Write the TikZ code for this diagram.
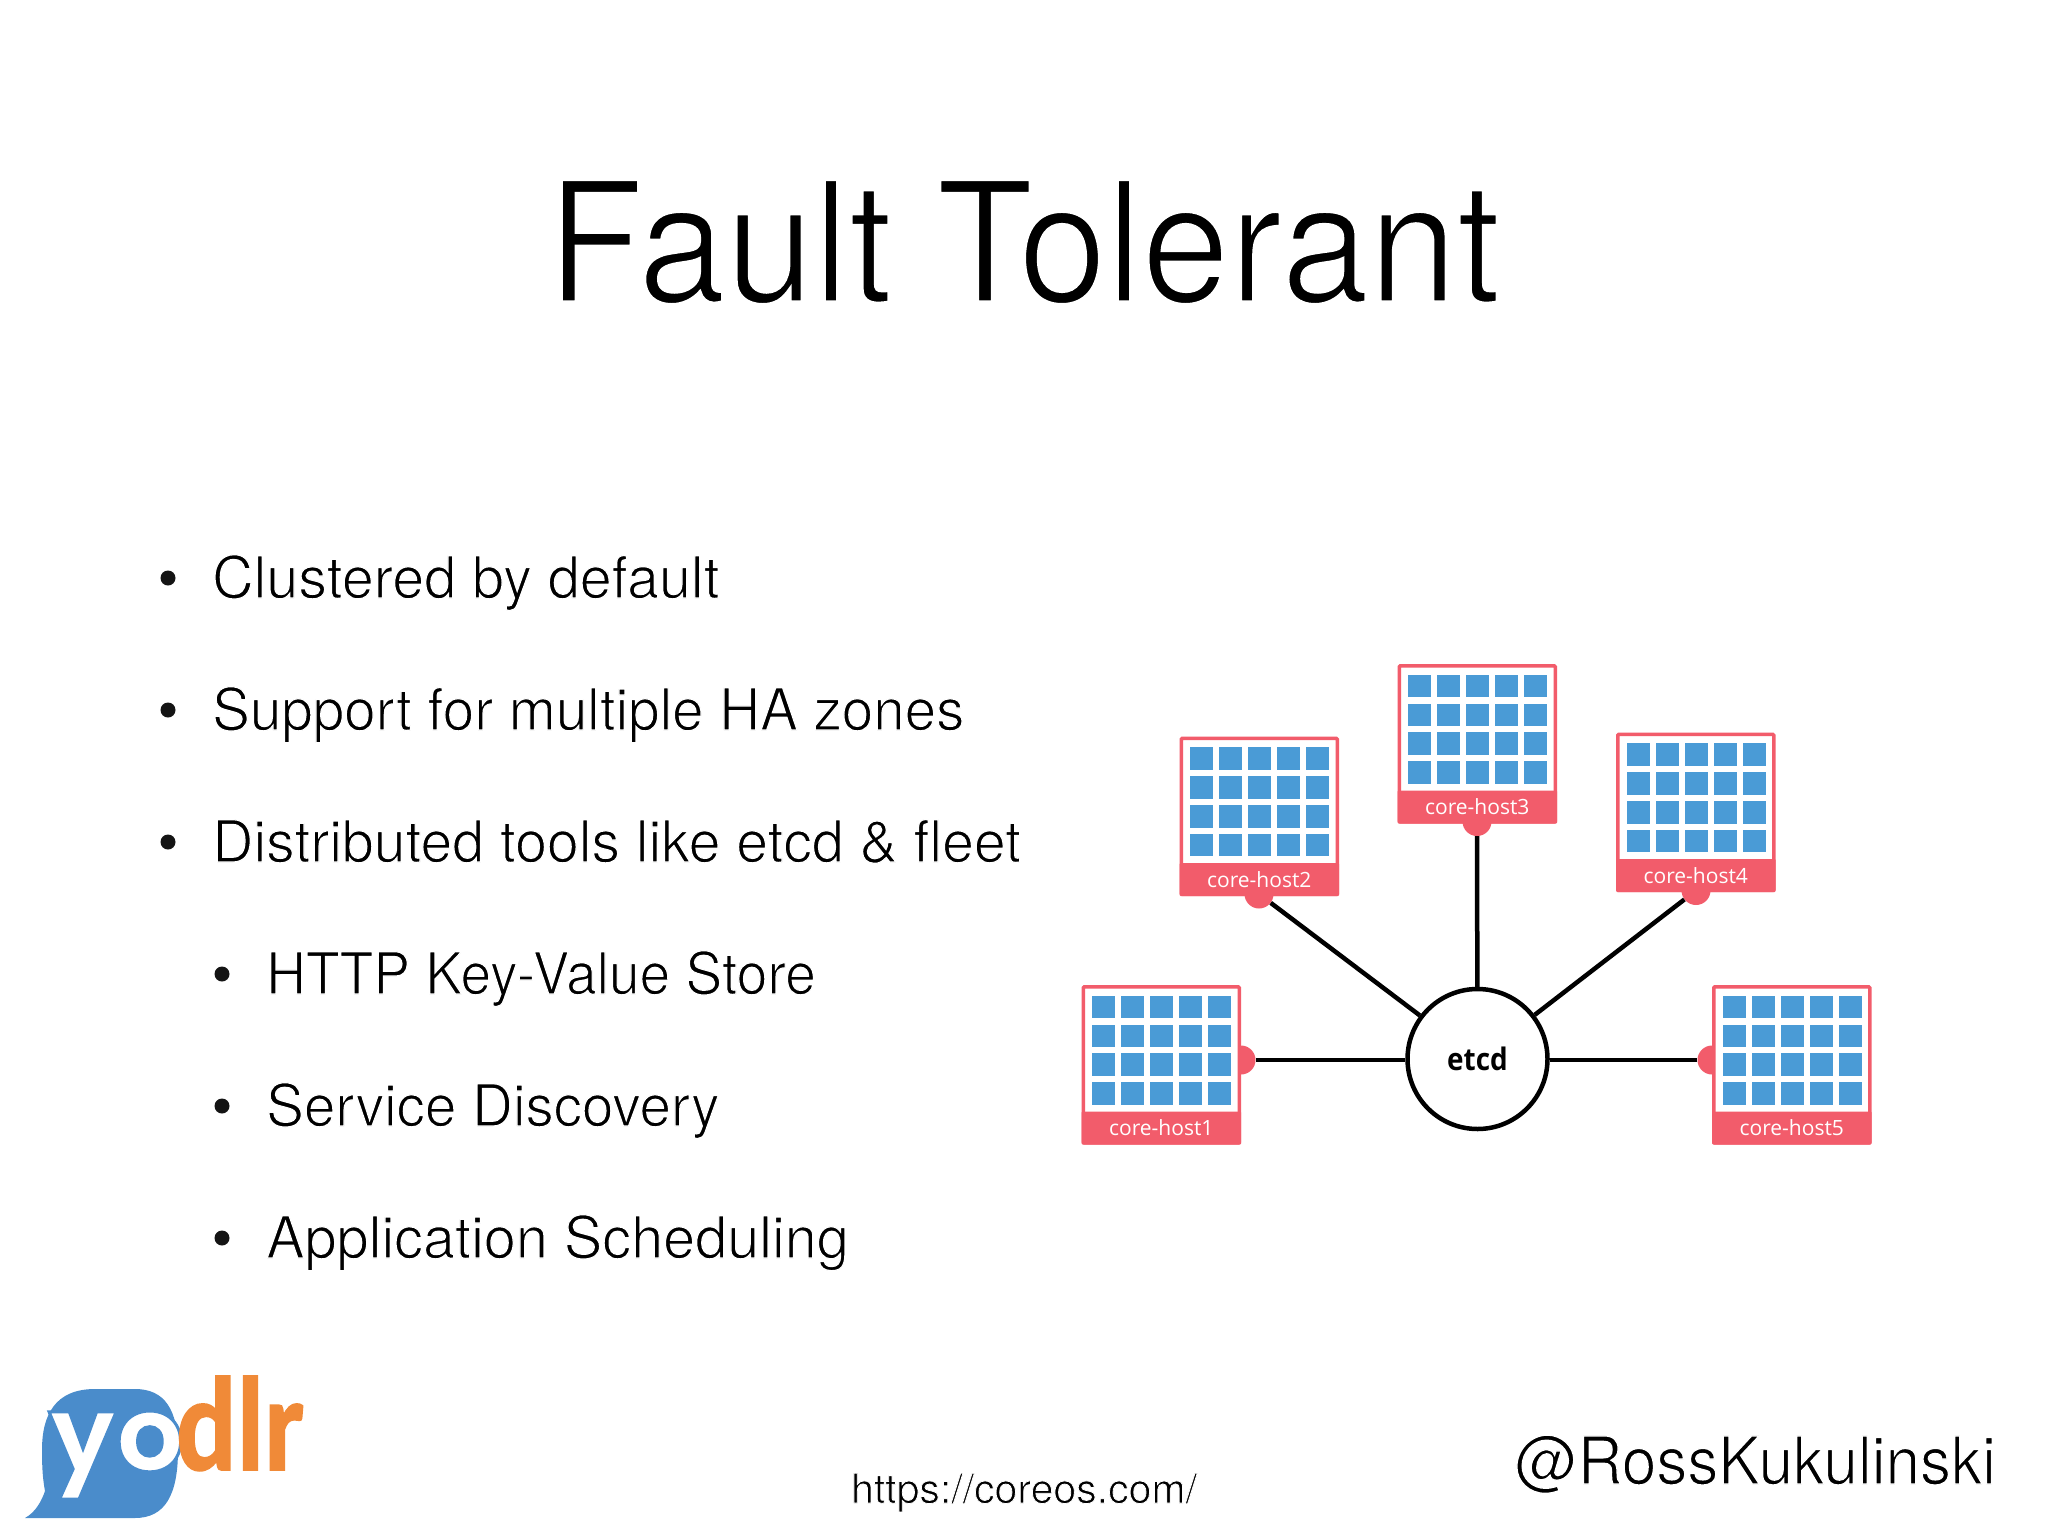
\documentclass[tikz,border=0pt]{standalone}
\usepackage{fontspec}
\setmainfont{TeX Gyre Heros}
\newfontfamily\barfont{Open Sans}
\newfontfamily\etcdfont[FakeStretch=0.9]{Open Sans}
\newfontfamily\yofont{Poppins}
\newfontfamily\dlrfont[FakeStretch=0.84]{Carlito}
\definecolor{hostred}{HTML}{F25C6B}
\definecolor{cellblue}{HTML}{4A9BD6}
\definecolor{yblue}{HTML}{4A8CCB}
\definecolor{yorange}{HTML}{F08A38}
% #1 stretch, #2 stroke that thins the glyphs, #3 text
\newcommand{\slim}[3]{\fontspec{TeX Gyre Heros}[FakeStretch=#1]\special{pdf:code q 2 Tr #2 w 1 1 1 RG}#3\special{pdf:code Q}}
% #1 stroke width, #2 stroke colour as r g b, #3 text
\newcommand{\stroked}[3]{\special{pdf:code q 2 Tr #1 w #2 RG}#3\special{pdf:code Q}}
\tikzset{x=1pt,y=-1pt,
 bul/.style={anchor=base west,font=\fontsize{58}{58}\selectfont,inner sep=0pt,text=black},
 dot/.style={circle,fill=black!92,minimum size=15pt,inner sep=0pt},
 cell/.style={fill=cellblue},
 pin/.style={circle,fill=hostred,minimum size=29pt,inner sep=0pt},
 wire/.style={line width=4.5pt,black},
 hostlabel/.style={text=white,font=\barfont\fontsize{21}{21}\selectfont,inner sep=0pt}}
\newcommand{\hostbox}[3]{%
 \draw[hostred,line width=3.5pt,fill=white,rounded corners=1pt] (#1+1.75,#2+1.75) rectangle (#1+157.75,#2+157.75);
 \fill[hostred,rounded corners=1pt] (#1,#2+126.5) rectangle (#1+159.5,#2+159.5);
 \foreach \i in {0,...,4}\foreach \j in {0,...,3}
  \fill[cell] (#1+10.7+29*\i,#2+10.7+28.8*\j) rectangle ++(23,22.7);
 \node[hostlabel] (#3) at (#1+79.75,#2+143) {#3};}
\begin{document}
\begin{tikzpicture}
\useasboundingbox (0,0) rectangle (2048,1536);
\node[anchor=base,inner sep=0pt,font=\fontsize{168}{168}\selectfont,text=black] (title) at (1024,302) {\slim{0.94}{3}{Fault Tolerant}};
\node[dot] (d1) at (168,578) {}; \node[bul] (b1) at (212,598) {\slim{0.99}{1.2}{Clustered by default}};
\node[dot] (d2) at (168,710) {}; \node[bul] (b2) at (212,730) {\slim{0.975}{1.2}{Support for multiple HA zones}};
\node[dot] (d3) at (168,842) {}; \node[bul] (b3) at (212,862) {\slim{0.985}{1.2}{Distributed tools like etcd \& fleet}};
\node[dot] (d4) at (222,974) {}; \node[bul] (b4) at (266,994) {\slim{0.95}{1.2}{HTTP Key-Value Store}};
\node[dot] (d5) at (222,1106) {}; \node[bul] (b5) at (266,1126) {\slim{0.975}{1.2}{Service Discovery}};
\node[dot] (d6) at (222,1238) {}; \node[bul] (b6) at (266,1258) {\slim{0.993}{1.2}{Application Scheduling}};
% pins
\node[pin] (p1) at (1241,1060) {};
\node[pin] (p2) at (1259,894) {};
\node[pin] (p3) at (1477,821.5) {};
\node[pin] (p4) at (1696,890.5) {};
\node[pin] (p5) at (1712,1060) {};
\hostbox{1081.5}{985}{core-host1}
\hostbox{1179.5}{736.5}{core-host2}
\hostbox{1397.5}{664}{core-host3}
\hostbox{1616}{732.5}{core-host4}
\hostbox{1712}{985}{core-host5}
\node[circle,draw=black,line width=4.5pt,minimum size=140pt,inner sep=0pt,fill=white,font=\etcdfont\bfseries\fontsize{31}{31}\selectfont] (etcd) at (1477.5,1059) {etcd};
\draw[wire] (p1) -- (p1-|etcd.west);
\draw[wire] (p2) -- (etcd);
\draw[wire] (p3) -- (etcd);
\draw[wire] (p4) -- (etcd);
\draw[wire] (p5) -- (p5-|etcd.east);
% logo
\fill[yblue] (25,1518) .. controls (36,1512) and (42,1500) .. (45,1491) .. controls (43,1480) and (42,1470) .. (42,1450) .. controls (42,1415) and (55,1389) .. (95,1389) -- (135,1389) .. controls (165,1389) and (178,1410) .. (178,1450) .. controls (178,1495) and (165,1518) .. (135,1518) -- cycle;
\node[anchor=base west,inner sep=0pt,text=white,font=\yofont\bfseries\fontsize{106}{106}\selectfont] (ylogo) at (49,1471) {\stroked{3}{0.29 0.55 0.80}{yo}};
\node[anchor=base west,inner sep=0pt,text=yorange,font=\dlrfont\bfseries\fontsize{134}{134}\selectfont] (dlogo) at (176,1470) {\stroked{1.5}{0.94 0.54 0.22}{dlr}};
\node[anchor=base,inner sep=0pt,font=\fontsize{41}{41}\selectfont,text=black] (url) at (1024,1503) {\slim{1}{0.8}{https://coreos.com/}};
\node[anchor=base east,inner sep=0pt,font=\fontsize{66}{66}\selectfont,text=black] (handle) at (1996,1484) {\slim{0.94}{1.3}{@RossKukulinski}};
\end{tikzpicture}
\end{document}
